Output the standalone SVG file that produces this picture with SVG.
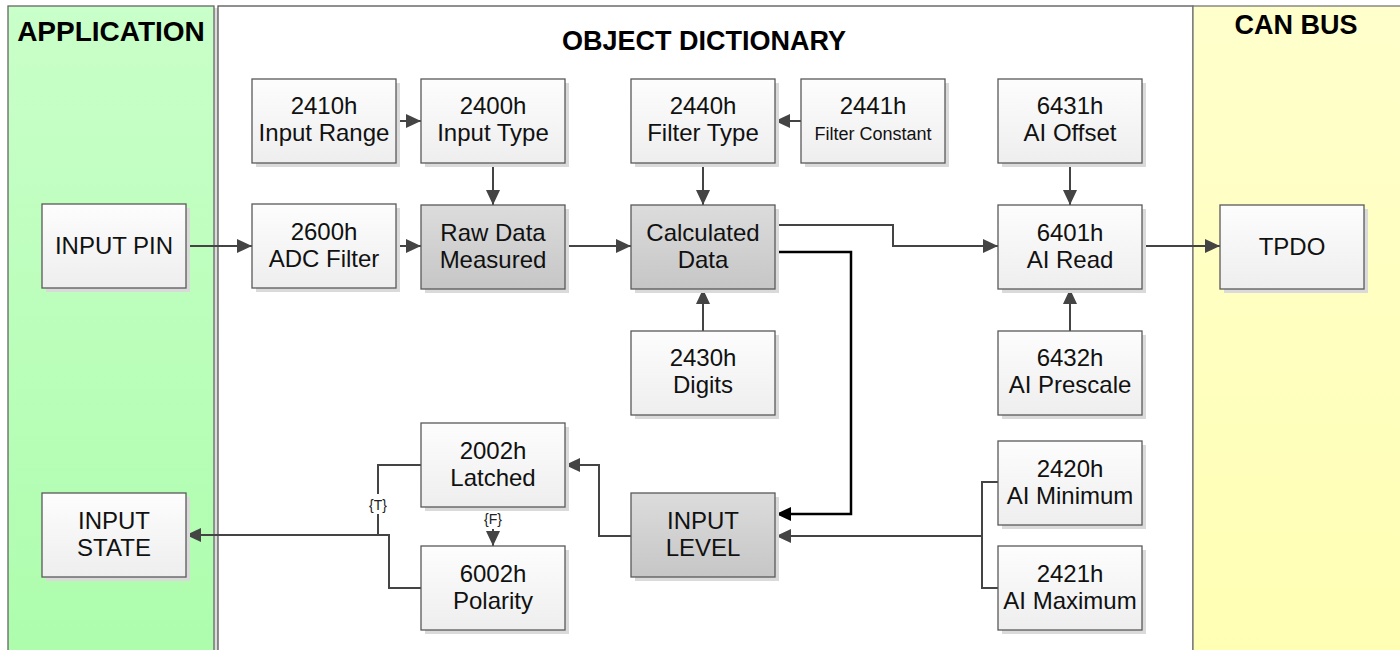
<svg xmlns="http://www.w3.org/2000/svg" width="1400" height="650" viewBox="0 0 1400 650">
<defs>
<linearGradient id="gApp" x1="0" y1="0" x2="0" y2="1"><stop offset="0" stop-color="#c9ffc9"/><stop offset="1" stop-color="#adfdad"/></linearGradient>
<linearGradient id="gCan" x1="0" y1="0" x2="0" y2="1"><stop offset="0" stop-color="#ffffcc"/><stop offset="1" stop-color="#ffffb4"/></linearGradient>
<linearGradient id="gBox" x1="0" y1="0" x2="0" y2="1"><stop offset="0" stop-color="#fdfdfd"/><stop offset="1" stop-color="#eeeeee"/></linearGradient>
<linearGradient id="gDark" x1="0" y1="0" x2="0" y2="1"><stop offset="0" stop-color="#dcdcdc"/><stop offset="1" stop-color="#c6c6c6"/></linearGradient>
<marker id="ah" markerUnits="userSpaceOnUse" markerWidth="16" markerHeight="14" refX="15" refY="7" orient="auto"><path d="M0,0 L15,7 L0,14 Z" fill="#444"/></marker>
<marker id="ahk" markerUnits="userSpaceOnUse" markerWidth="16" markerHeight="14" refX="15" refY="7" orient="auto"><path d="M0,0 L15,7 L0,14 Z" fill="#000"/></marker>
</defs>
<style>
.sh{fill:#dadada}
.bx{fill:url(#gBox);stroke:#595959;stroke-width:1.3}
.dk{fill:url(#gDark);stroke:#595959;stroke-width:1.3}
.t{font-family:"Liberation Sans",Arial,sans-serif;font-size:24px;fill:#111;text-anchor:middle}
.ts{font-family:"Liberation Sans",Arial,sans-serif;font-size:18px;fill:#111;text-anchor:middle}
.h{font-family:"Liberation Sans",Arial,sans-serif;font-weight:bold;fill:#000;text-anchor:middle}
.c{fill:none;stroke:#444;stroke-width:2}
.ck{fill:none;stroke:#000;stroke-width:2.5}
.lb{font-family:"Liberation Sans",Arial,sans-serif;font-size:14px;fill:#222;text-anchor:middle}
</style>

<g id="panels">
<rect x="214" y="8" width="4" height="642" fill="#dcdcdc"/>
<rect x="8" y="6" width="206" height="650" fill="url(#gApp)" stroke="#666" stroke-width="1.3"/>
<rect x="218" y="6" width="975" height="650" fill="#ffffff" stroke="#555" stroke-width="1.3"/>
<rect x="1193" y="6" width="210" height="650" fill="url(#gCan)" stroke="#777" stroke-width="1.3"/>
<text class="h" x="111" y="41" font-size="28">APPLICATION</text>
<text class="h" x="704" y="50" font-size="27">OBJECT DICTIONARY</text>
<text class="h" x="1296" y="34" font-size="27">CAN BUS</text>
</g>

<g id="connectors">
<path class="c" d="M186,246 H252" marker-end="url(#ah)"/>
<path class="c" d="M396,246 H421" marker-end="url(#ah)"/>
<path class="c" d="M565,246 H631" marker-end="url(#ah)"/>
<path class="c" d="M1142,246 H1220" marker-end="url(#ah)"/>
<path class="c" d="M396,121 H421" marker-end="url(#ah)"/>
<path class="c" d="M801,121 H775" marker-end="url(#ah)"/>
<path class="c" d="M493,163 V205" marker-end="url(#ah)"/>
<path class="c" d="M703,163 V205" marker-end="url(#ah)"/>
<path class="c" d="M1070,163 V205" marker-end="url(#ah)"/>
<path class="c" d="M703,331 V289" marker-end="url(#ah)"/>
<path class="c" d="M1070,331 V289" marker-end="url(#ah)"/>
<path class="c" d="M775,225 H893 V246 H998" marker-end="url(#ah)"/>
<path class="ck" d="M775,252 H851 V514 H776" marker-end="url(#ahk)"/>
<path class="c" d="M998,482 H982 V588 H998"/>
<path class="c" d="M982,536 H776" marker-end="url(#ah)"/>
<path class="c" d="M631,536 H599 V465 H565" marker-end="url(#ah)"/>
<path class="c" d="M493,508 V546" marker-end="url(#ah)"/>
<path class="c" d="M421,465 H378 V535"/>
<path class="c" d="M421,588 H389 V535 H186" marker-end="url(#ah)"/>
<rect x="366" y="494" width="24" height="20" fill="#fff"/>
<text class="lb" x="378" y="510">{T}</text>
<rect x="480" y="510" width="26" height="19" fill="#fff"/>
<text class="lb" x="493" y="524">{F}</text>
</g>

<g id="n-inputpin"><rect class="sh" x="46" y="208" width="144" height="84"/><rect class="bx" x="42" y="204" width="144" height="84"/><text class="t" x="114" y="254">INPUT PIN</text></g>
<g id="n-inputstate"><rect class="sh" x="46" y="497" width="144" height="84"/><rect class="bx" x="42" y="493" width="144" height="84"/><text class="t" x="114" y="529">INPUT</text><text class="t" x="114" y="556">STATE</text></g>
<g id="n-2410h"><rect class="sh" x="256" y="83" width="144" height="84"/><rect class="bx" x="252" y="79" width="144" height="84"/><text class="t" x="324" y="114">2410h</text><text class="t" x="324" y="141">Input Range</text></g>
<g id="n-2600h"><rect class="sh" x="256" y="208" width="144" height="84"/><rect class="bx" x="252" y="204" width="144" height="84"/><text class="t" x="324" y="240">2600h</text><text class="t" x="324" y="267">ADC Filter</text></g>
<g id="n-2400h"><rect class="sh" x="425" y="83" width="144" height="84"/><rect class="bx" x="421" y="79" width="144" height="84"/><text class="t" x="493" y="114">2400h</text><text class="t" x="493" y="141">Input Type</text></g>
<g id="n-raw"><rect class="sh" x="425" y="209" width="144" height="84"/><rect class="dk" x="421" y="205" width="144" height="84"/><text class="t" x="493" y="241">Raw Data</text><text class="t" x="493" y="268">Measured</text></g>
<g id="n-2002h"><rect class="sh" x="425" y="427" width="144" height="84"/><rect class="bx" x="421" y="423" width="144" height="84"/><text class="t" x="493" y="459">2002h</text><text class="t" x="493" y="486">Latched</text></g>
<g id="n-6002h"><rect class="sh" x="425" y="550" width="144" height="84"/><rect class="bx" x="421" y="546" width="144" height="84"/><text class="t" x="493" y="582">6002h</text><text class="t" x="493" y="609">Polarity</text></g>
<g id="n-2440h"><rect class="sh" x="635" y="83" width="144" height="84"/><rect class="bx" x="631" y="79" width="144" height="84"/><text class="t" x="703" y="114">2440h</text><text class="t" x="703" y="141">Filter Type</text></g>
<g id="n-calc"><rect class="sh" x="635" y="209" width="144" height="84"/><rect class="dk" x="631" y="205" width="144" height="84"/><text class="t" x="703" y="241">Calculated</text><text class="t" x="703" y="268">Data</text></g>
<g id="n-2430h"><rect class="sh" x="635" y="335" width="144" height="84"/><rect class="bx" x="631" y="331" width="144" height="84"/><text class="t" x="703" y="366">2430h</text><text class="t" x="703" y="393">Digits</text></g>
<g id="n-inputlevel"><rect class="sh" x="635" y="497" width="144" height="84"/><rect class="dk" x="631" y="493" width="144" height="84"/><text class="t" x="703" y="529">INPUT</text><text class="t" x="703" y="556">LEVEL</text></g>
<g id="n-2441h"><rect class="sh" x="805" y="83" width="144" height="84"/><rect class="bx" x="801" y="79" width="144" height="84"/><text class="t" x="873" y="114">2441h</text><text class="ts" x="873" y="140">Filter Constant</text></g>
<g id="n-6431h"><rect class="sh" x="1002" y="83" width="144" height="84"/><rect class="bx" x="998" y="79" width="144" height="84"/><text class="t" x="1070" y="114">6431h</text><text class="t" x="1070" y="141">AI Offset</text></g>
<g id="n-6401h"><rect class="sh" x="1002" y="209" width="144" height="84"/><rect class="bx" x="998" y="205" width="144" height="84"/><text class="t" x="1070" y="241">6401h</text><text class="t" x="1070" y="268">AI Read</text></g>
<g id="n-6432h"><rect class="sh" x="1002" y="335" width="144" height="84"/><rect class="bx" x="998" y="331" width="144" height="84"/><text class="t" x="1070" y="366">6432h</text><text class="t" x="1070" y="393">AI Prescale</text></g>
<g id="n-2420h"><rect class="sh" x="1002" y="445" width="144" height="84"/><rect class="bx" x="998" y="441" width="144" height="84"/><text class="t" x="1070" y="477">2420h</text><text class="t" x="1070" y="504">AI Minimum</text></g>
<g id="n-2421h"><rect class="sh" x="1002" y="550" width="144" height="84"/><rect class="bx" x="998" y="546" width="144" height="84"/><text class="t" x="1070" y="582">2421h</text><text class="t" x="1070" y="609">AI Maximum</text></g>
<g id="n-tpdo"><rect class="sh" x="1224" y="209" width="144" height="84"/><rect class="bx" x="1220" y="205" width="144" height="84"/><text class="t" x="1292" y="255">TPDO</text></g>
</svg>
